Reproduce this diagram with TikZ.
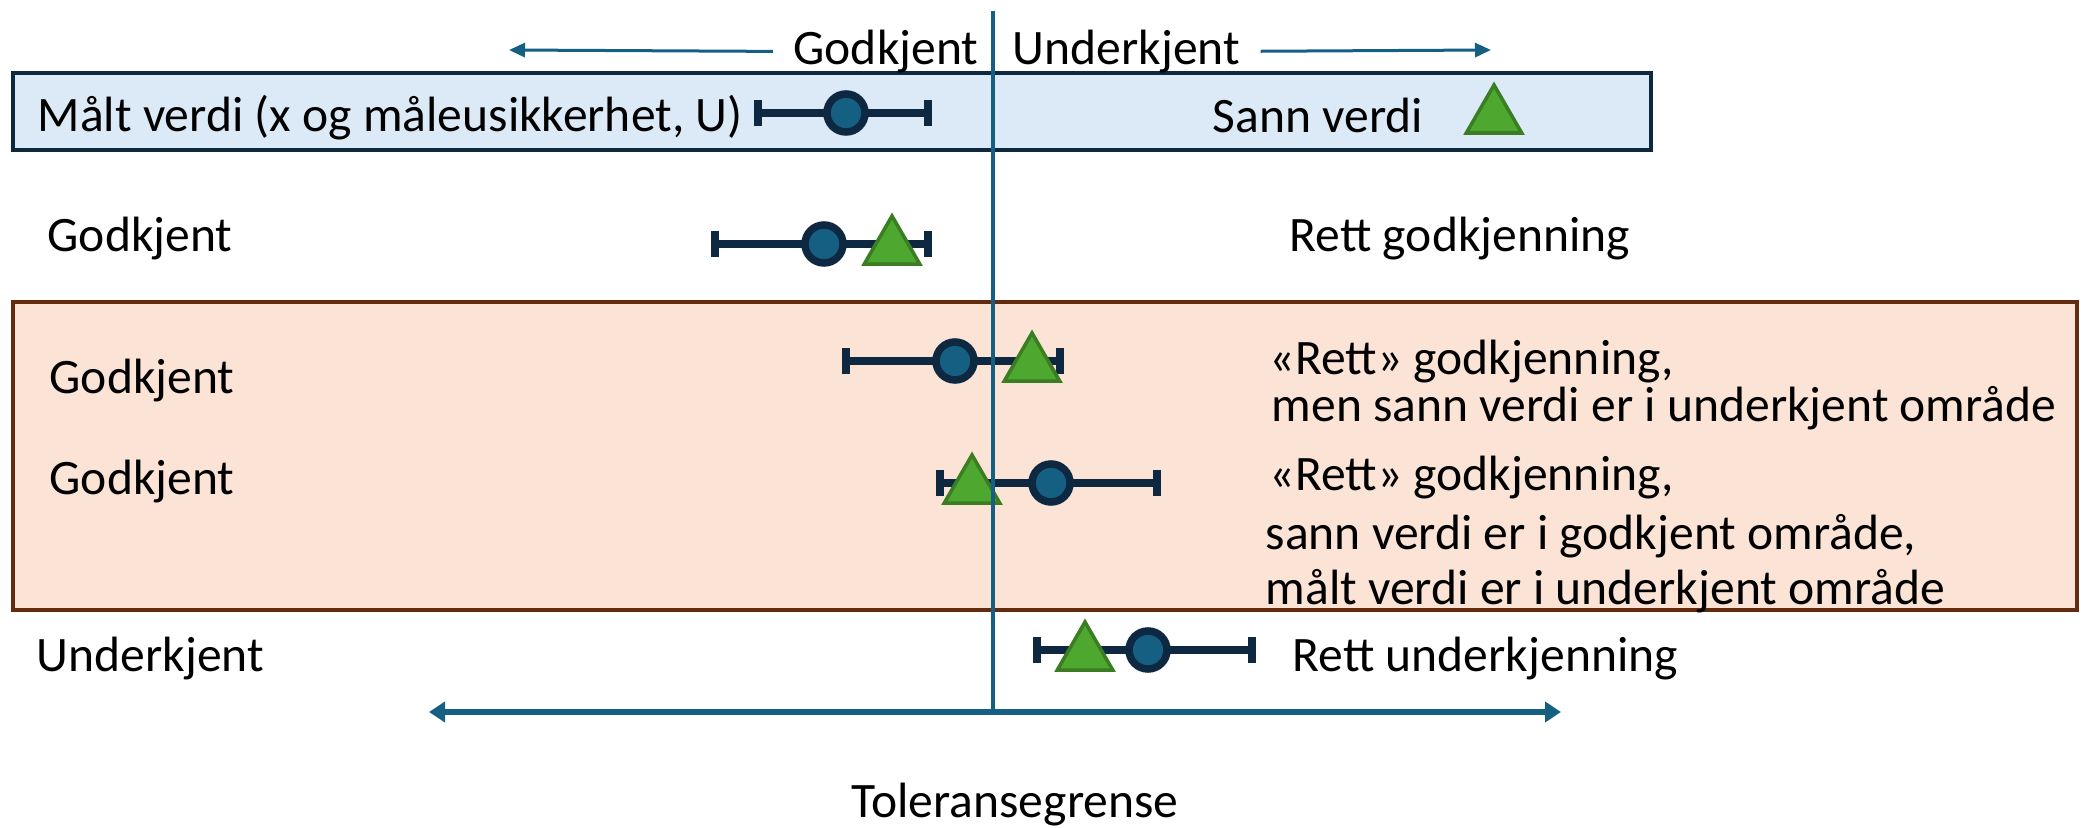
\documentclass[tikz,border=0pt]{standalone}
\usepackage{fontspec}
\setmainfont{Carlito}
\definecolor{axisblue}{RGB}{21,96,130}
\definecolor{navy}{RGB}{14,40,65}
\definecolor{markgreen}{RGB}{78,167,46}
\definecolor{markgreendark}{RGB}{59,125,35}
\definecolor{boxblue}{RGB}{220,234,247}
\definecolor{boxorange}{RGB}{251,227,214}
\definecolor{boxbrown}{RGB}{99,44,14}
\usetikzlibrary{arrows.meta, shapes.geometric, positioning}

\tikzset{
  txt/.style={anchor=west, inner sep=0pt, yshift=-0.05cm, font=\fontsize{14.1}{17}\selectfont},
  measured/.style={circle, draw=navy, fill=axisblue, line width=0.075cm, minimum size=0.38cm, inner sep=0pt},
  truevalue/.style={isosceles triangle, isosceles triangle apex angle=60, shape border rotate=90, draw=markgreendark, fill=markgreen, line width=0.035cm, minimum height=0.48cm, inner sep=0pt, yshift=-0.04cm},
  errbar/.style={navy, line width=0.08cm, {Bar[width=0.26cm]}-{Bar[width=0.26cm]}},
  dirarrow/.style={axisblue, line width=0.03cm, shorten <=0.2cm, -{Triangle[length=0.16cm, width=0.14cm]}},
  axisarrow/.style={axisblue, line width=0.05cm, {Triangle[length=0.16cm, width=0.2cm]}-{Triangle[length=0.16cm, width=0.2cm]}},
  limitline/.style={axisblue, line width=0.035cm},
}

\begin{document}
\begin{tikzpicture}[x=0.01cm, y=-0.01cm]
    \useasboundingbox (0,0) rectangle (2088,828);

    % Zones
    \filldraw[fill=boxblue, draw=navy, line width=0.035cm] (13,73) rectangle (1651,150);
    \filldraw[fill=boxorange, draw=boxbrown, line width=0.045cm] (13,302) rectangle (2077,610);

    % Directions at the top
    \node[txt, anchor=east] (okhead) at (979,47) {Godkjent};
    \node[txt] (nokhead) at (1012,47) {Underkjent};
    \coordinate (okend) at (509,50);
    \coordinate (nokend) at (1491,50);
    \draw[dirarrow] (okhead) -- (okend);
    \draw[dirarrow] (nokhead) -- (nokend);

    % Legend
    \node[txt] (mvlabel) at (37,113) {Målt verdi (x og måleusikkerhet, U)};
    \coordinate (b1l) at (754,113);
    \coordinate (b1r) at (932,113);
    \draw[errbar] (b1l) -- (b1r);
    \node[measured] (x1) at (846,113) {};
    \node[txt] (svlabel) at (1212,110) {Sann verdi};
    \node[truevalue] (sv) at (1494,113) {};

    % Case 1
    \node[txt] (res2) at (47,234) {Godkjent};
    \coordinate (b2l) at (711,244);
    \coordinate (b2r) at (932,244);
    \draw[errbar] (b2l) -- (b2r);
    \node[measured] (x2) at (824,244) {};
    \node[truevalue] (t2) at (892,244) {};
    \node[txt] (txt2) at (1289,234) {Rett godkjenning};

    % Case 2
    \node[txt] (res3) at (49,376) {Godkjent};
    \coordinate (b3l) at (842,361);
    \coordinate (b3r) at (1064,361);
    \draw[errbar] (b3l) -- (b3r);
    \node[measured] (x3) at (955,361) {};
    \node[truevalue] (t3) at (1032,361) {};
    \node[txt] (txt3a) at (1269,357) {«Rett» godkjenning,};
    \node[txt] (txt3b) at (1271,403) {men sann verdi er i underkjent område};

    % Case 3
    \node[txt] (res4) at (49,477) {Godkjent};
    \coordinate (b4l) at (936,483);
    \coordinate (b4r) at (1161,483);
    \draw[errbar] (b4l) -- (b4r);
    \node[measured] (x4) at (1051,483) {};
    \node[truevalue] (t4) at (972,483) {};
    \node[txt] (txt4a) at (1269,473) {«Rett» godkjenning,};
    \node[txt] (txt4b) at (1265,531) {sann verdi er i godkjent område,};
    \node[txt] (txt4c) at (1265,586) {målt verdi er i underkjent område};

    % Case 4
    \node[txt] (res5) at (36,654) {Underkjent};
    \coordinate (b5l) at (1033,650);
    \coordinate (b5r) at (1256,650);
    \draw[errbar] (b5l) -- (b5r);
    \node[measured] (x5) at (1148,650) {};
    \node[truevalue] (t5) at (1085,650) {};
    \node[txt] (txt5) at (1292,654) {Rett underkjenning};

    % Tolerance limit and axis
    \coordinate (limtop) at (993,11);
    \coordinate (limbot) at (993,712);
    \coordinate (axl) at (429,712);
    \coordinate (axr) at (1561,712);
    \draw[axisarrow] (axl) -- (axr);
    \draw[limitline] (limtop) -- (limbot);
    \node[txt, anchor=center, yshift=0.05cm] (limlabel) at (1015,805) {Toleransegrense};
\end{tikzpicture}
\end{document}
